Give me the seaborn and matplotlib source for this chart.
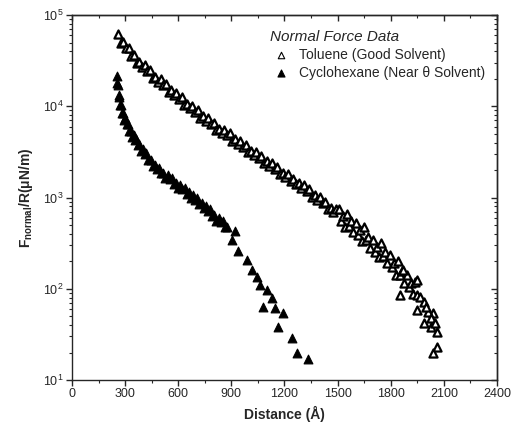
import matplotlib
matplotlib.use("Agg")
import matplotlib.pyplot as plt
import seaborn as sns
import pandas as pd
from matplotlib.ticker import MultipleLocator, LogLocator, NullFormatter

# ---------------------------------------------------------------------------
# Data (distance in Angstrom, F/R in uN/m)
# ---------------------------------------------------------------------------
toluene_dist = [
    260, 275, 290, 305, 320, 335, 350, 365, 380, 395, 410, 425, 440, 455, 470,
    485, 500, 515, 530, 545, 560, 575, 590, 605, 620, 635, 650, 665, 680, 695,
    710, 725, 740, 755, 770, 785, 800, 815, 830, 845, 860, 875, 890, 905, 920,
    935, 950, 965, 980, 995, 1010, 1025, 1040, 1055, 1070, 1085, 1100, 1115,
    1130, 1145, 1160, 1175, 1190, 1205, 1220, 1235, 1250, 1265, 1280, 1295,
    1310, 1325, 1340, 1355, 1370, 1385, 1400, 1415, 1430, 1445, 1460, 1475,
    1490, 1505, 1517, 1529, 1541, 1553, 1565, 1577, 1589, 1601, 1613, 1625,
    1637, 1649, 1661, 1673, 1685, 1697, 1709, 1721, 1733, 1745, 1757, 1769,
    1781, 1793, 1805, 1817, 1829, 1841, 1853, 1865, 1877, 1889, 1901, 1913,
    1925, 1937, 1949, 1947, 1871, 1853, 1966, 1947, 2041, 1985, 2060, 2060,
    2041, 1990, 2010, 2025, 2000, 2030, 2050,
]
toluene_force = [
    62000, 49700, 50400, 43700, 43500, 36000, 36700, 29800, 30700, 26800,
    28600, 24300, 25000, 20400, 21100, 18500, 19700, 16900, 17400, 14400,
    15000, 13200, 14100, 12000, 12500, 10300, 10700, 9490, 10100, 8670,
    9020, 7460, 7760, 6890, 7410, 6360, 6600, 5470, 5690, 5040, 5440, 4850,
    5040, 4180, 4360, 3880, 4200, 3600, 3760, 3130, 3270, 2930, 3160, 2740,
    2860, 2380, 2500, 2220, 2400, 2060, 2160, 1790, 1870, 1660, 1790, 1530,
    1600, 1390, 1450, 1280, 1380, 1180, 1230, 1020, 1060, 940, 1010, 867,
    902, 746, 776, 689, 741, 745, 553, 622, 472, 668, 485, 546, 415, 522,
    388, 437, 332, 470, 339, 371, 277, 344, 255, 289, 221, 314, 227, 252,
    190, 237, 173, 192, 143, 200, 142, 156, 116, 143, 104, 116, 87, 120, 86,
    126, 162, 85, 81, 59, 54, 42, 34, 23, 20, 71, 56, 48, 63, 38, 42,
]

cyclohexane_dist = [
    252, 256, 260, 264, 268, 272, 277, 282, 288, 294, 300, 308, 316, 324,
    332, 340, 348, 356, 364, 372, 380, 390, 400, 410, 420, 432, 444, 456,
    468, 480, 492, 504, 516, 528, 540, 552, 564, 576, 588, 600, 612, 624,
    636, 648, 660, 672, 684, 696, 708, 720, 732, 744, 756, 768, 780, 792,
    804, 816, 828, 840, 852, 864, 874, 902, 921, 940, 987, 1015, 1043, 1062,
    1100, 1128, 1081, 1147, 1194, 1166, 1241, 1270, 1335,
]
cyclohexane_force = [
    21600, 18100, 17200, 13400, 12700, 10300, 10300, 8530, 8380, 7060, 7350,
    6400, 6460, 5420, 5420, 4600, 4830, 4280, 4400, 3760, 3820, 3260, 3430,
    2990, 3050, 2580, 2580, 2200, 2300, 2050, 2130, 1840, 1880, 1640, 1770,
    1580, 1640, 1420, 1460, 1270, 1370, 1230, 1280, 1100, 1140, 991, 1060,
    951, 986, 851, 871, 760, 813, 719, 740, 632, 643, 558, 598, 533, 552,
    475, 479, 339, 427, 257, 209, 162, 135, 110, 98, 79, 63, 62, 54, 38, 29,
    20, 17,
]

x_ticks = [0, 300, 600, 900, 1200, 1500, 1800, 2100, 2400]

toluene = pd.DataFrame({"distance": toluene_dist, "force": toluene_force})
cyclohexane = pd.DataFrame({"distance": cyclohexane_dist, "force": cyclohexane_force})

# ---------------------------------------------------------------------------
# Style
# ---------------------------------------------------------------------------
sns.set_style("ticks")
plt.rcParams["font.family"] = ["Liberation Sans", "DejaVu Sans"]
plt.rcParams["mathtext.fontset"] = "custom"
plt.rcParams["mathtext.rm"] = "Liberation Sans"
plt.rcParams["mathtext.bf"] = "Liberation Sans:bold"
plt.rcParams["axes.linewidth"] = 1.0

fig = plt.figure(figsize=(5.12, 4.3), dpi=100)
ax = fig.add_axes([0.1406, 0.1163, 0.8301, 0.8487])

sns.scatterplot(data=toluene, x="distance", y="force", ax=ax, marker="^",
                s=34, facecolor="white", edgecolor="black", linewidth=1.6,
                label="Toluene (Good Solvent)")
sns.scatterplot(data=cyclohexane, x="distance", y="force", ax=ax, marker="^",
                s=40, color="black", edgecolor="black", linewidth=0.8,
                label="Cyclohexane (Near \u03b8 Solvent)")

ax.set_yscale("log")
ax.set_xlim(0, 2400)
ax.set_ylim(10, 1e5)
ax.set_xticks(x_ticks)
ax.xaxis.set_minor_locator(MultipleLocator(150))
ax.yaxis.set_major_locator(LogLocator(base=10, numticks=10))
ax.yaxis.set_minor_locator(LogLocator(base=10, subs=range(2, 10), numticks=10))
ax.yaxis.set_minor_formatter(NullFormatter())
ax.tick_params(which="major", direction="out", length=4, width=1.0, labelsize=9, pad=2)
ax.tick_params(which="minor", direction="out", length=2.2, width=0.8)

# mirrored ticks on top / right, pointing inward
secx = ax.secondary_xaxis("top")
secx.set_xticks(x_ticks)
secx.xaxis.set_minor_locator(MultipleLocator(150))
secx.tick_params(which="major", direction="in", length=4, width=1.0, labeltop=False)
secx.tick_params(which="minor", direction="in", length=2.2, width=0.8)
secy = ax.secondary_yaxis("right")
secy.yaxis.set_major_locator(LogLocator(base=10, numticks=10))
secy.yaxis.set_minor_locator(LogLocator(base=10, subs=range(2, 10), numticks=10))
secy.tick_params(which="major", direction="in", length=4, width=1.0, labelright=False)
secy.tick_params(which="minor", direction="in", length=2.2, width=0.8)
secy.yaxis.set_minor_formatter(NullFormatter())

ax.set_xlabel("Distance (\u00c5)", fontsize=10, fontweight="bold", labelpad=4)
ax.set_ylabel("F$_{\\mathbf{normal}}$/R(\u03bcN/m)",
              fontsize=10, fontweight="bold", labelpad=6)

leg = ax.legend(loc="upper right", bbox_to_anchor=(0.985, 0.975), frameon=False,
                title="Normal Force Data", fontsize=10, title_fontsize=11,
                handletextpad=0.5, borderaxespad=0.0, labelspacing=0.3,
                alignment="left", markerscale=0.8, handlelength=1.6)
leg.get_title().set_fontstyle("italic")
for h in leg.legend_handles:
    h.set_linewidth(0.8)

fig.savefig("out.png", dpi=100, facecolor="white")
